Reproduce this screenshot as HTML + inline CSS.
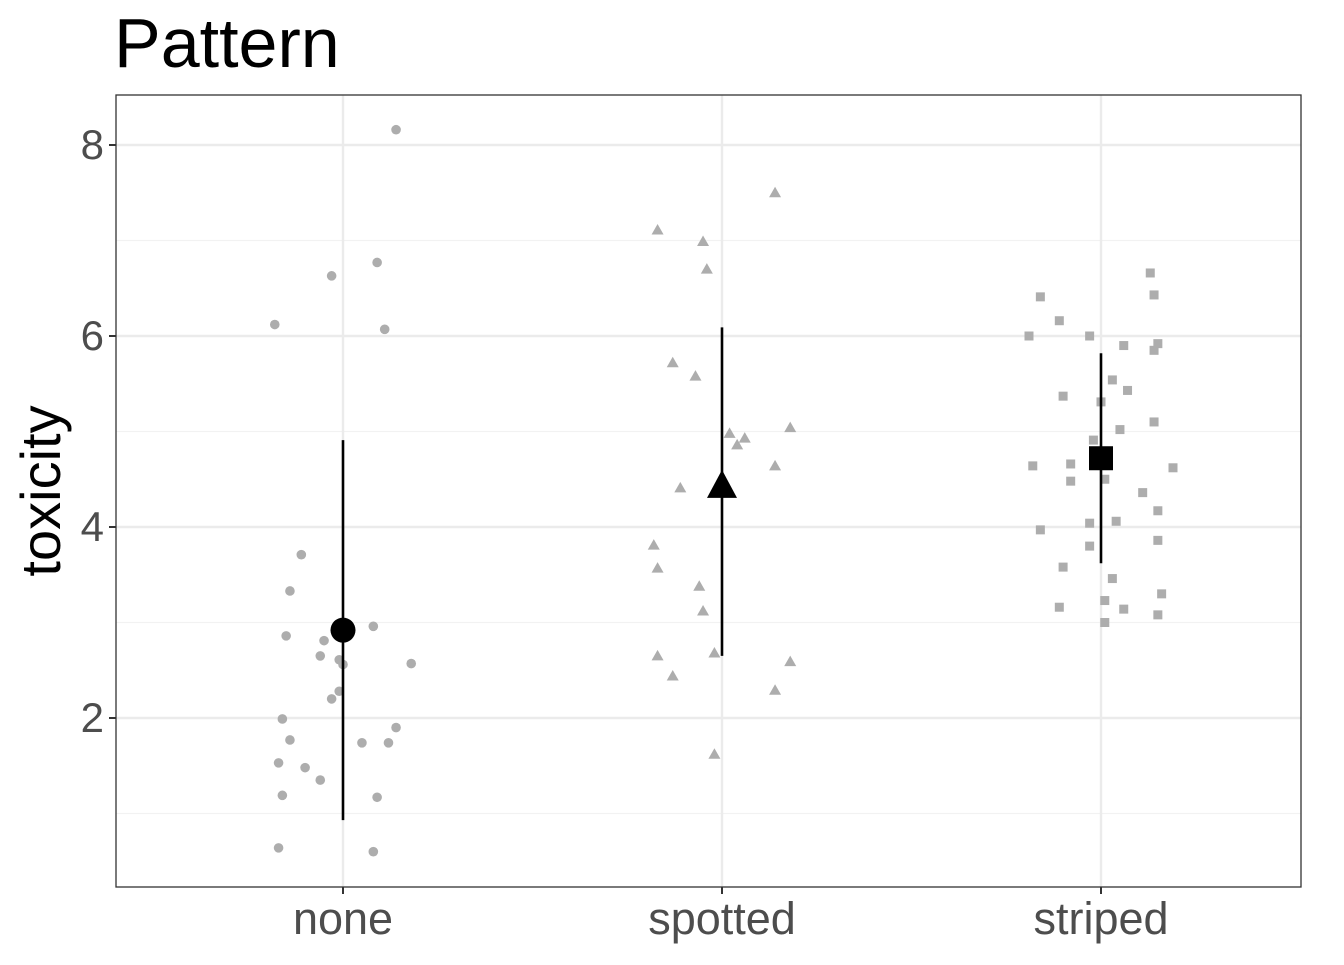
<!DOCTYPE html>
<html><head><meta charset="utf-8"><style>
body{margin:0;background:#fff}
svg text{font-family:"Liberation Sans",Arial,sans-serif}
</style></head><body>
<svg id="chart" width="1344" height="960"></svg>
<script>
const categories=["none","spotted","striped"];
const yTicks=[2,4,6,8];
const yMinor=[1,3,5,7];
const noneVals=[8.16,6.63,6.77,6.12,6.07,3.71,3.33,2.86,2.81,2.65,2.61,2.56,2.96,2.57,2.28,2.20,1.99,1.90,1.77,1.74,1.74,1.53,1.48,1.35,1.19,1.17,0.64,0.60];
const noneJit=[0.14,-0.03,0.09,-0.18,0.11,-0.11,-0.14,-0.15,-0.05,-0.06,-0.01,0,0.08,0.18,-0.01,-0.03,-0.16,0.14,-0.14,0.05,0.12,-0.17,-0.10,-0.06,-0.16,0.09,-0.17,0.08];
const spottedVals=[7.50,7.11,6.99,6.70,5.72,5.58,4.98,4.93,5.04,4.86,4.64,4.41,3.81,3.57,3.38,3.12,2.68,2.65,2.59,2.44,2.29,1.62];
const spottedJit=[0.14,-0.17,-0.05,-0.04,-0.13,-0.07,0.02,0.06,0.18,0.04,0.14,-0.11,-0.18,-0.17,-0.06,-0.05,-0.02,-0.17,0.18,-0.13,0.14,-0.02];
const stripedVals=[6.66,6.41,6.43,6.16,6.00,6.00,5.90,5.92,5.85,5.54,5.43,5.37,5.31,5.02,5.10,4.91,4.64,4.66,4.62,4.48,4.50,4.36,4.17,4.04,4.06,3.97,3.86,3.80,3.58,3.46,3.30,3.16,3.23,3.14,3.08,3.00];
const stripedJit=[0.13,-0.16,0.14,-0.11,-0.19,-0.03,0.06,0.15,0.14,0.03,0.07,-0.10,0,0.05,0.14,-0.02,-0.18,-0.08,0.19,-0.08,0.01,0.11,0.15,-0.03,0.04,-0.16,0.15,-0.03,-0.10,0.03,0.16,-0.11,0.01,0.06,0.15,0.01];
const means=[2.92,4.42,4.72];
const lows=[0.93,2.65,3.62];
const highs=[4.91,6.09,5.82];

const NS="http://www.w3.org/2000/svg";
const svg=document.getElementById("chart");
const L=116,R=1301,T=95,B=887;
const y=v=>718-(v-2)*95.5;
const x=(i,j)=>343+(i+(j||0))*379;
function el(t,a,name,p){const e=document.createElementNS(NS,t);for(const k in a)e.setAttribute(k,a[k]);


(p||svg).appendChild(e);return e;}
el("rect",{x:L,y:T,width:R-L,height:B-T,fill:"#fff"},"plot-background");
yMinor.forEach(v=>el("line",{x1:L,x2:R,y1:y(v),y2:y(v),stroke:"#f2f2f2","stroke-width":1.2},"minor-gridline"));
yTicks.forEach(v=>el("line",{x1:L,x2:R,y1:y(v),y2:y(v),stroke:"#ebebeb","stroke-width":2.4},"major-gridline"));
categories.forEach((c,i)=>el("line",{x1:x(i),x2:x(i),y1:T,y2:B,stroke:"#ebebeb","stroke-width":2.4},"x-gridline"));
const g="#adadad";
noneVals.forEach((v,k)=>el("circle",{cx:x(0,noneJit[k]),cy:y(v),r:4.8,fill:g},"point-none"));
spottedVals.forEach((v,k)=>{const cx=x(1,spottedJit[k]),cy=y(v);
el("polygon",{points:`${cx},${cy-6} ${cx-6},${cy+4.5} ${cx+6},${cy+4.5}`,fill:g},"point-spotted");});
stripedVals.forEach((v,k)=>{const cx=x(2,stripedJit[k]),cy=y(v);
el("rect",{x:cx-4.5,y:cy-4.5,width:9,height:9,fill:g},"point-striped");});
means.forEach((m,i)=>{
el("line",{x1:x(i),x2:x(i),y1:y(lows[i]),y2:y(highs[i]),stroke:"#000","stroke-width":2.6},"error-bar-"+categories[i]);
const cx=x(i),cy=y(m);
if(i==0)el("circle",{cx,cy,r:12.5,fill:"#000"},"mean-none");
else if(i==1)el("polygon",{points:`${cx},${cy-17} ${cx-15},${cy+11} ${cx+15},${cy+11}`,fill:"#000"},"mean-spotted");
else el("rect",{x:cx-12,y:cy-12,width:24,height:24,fill:"#000"},"mean-striped");
});
el("rect",{x:L,y:T,width:R-L,height:B-T,fill:"none",stroke:"#333","stroke-width":1.3},"panel-border");
yTicks.forEach(v=>{el("line",{x1:L-7,x2:L,y1:y(v),y2:y(v),stroke:"#333","stroke-width":2},"y-tick");
const t=el("text",{x:L-12,y:y(v)+14,"text-anchor":"end","font-size":42,fill:"#4d4d4d"},"y-tick-label");t.textContent=v;});
categories.forEach((c,i)=>{el("line",{x1:x(i),x2:x(i),y1:B,y2:B+7,stroke:"#333","stroke-width":2},"x-tick");
const t=el("text",{x:x(i),y:934,"text-anchor":"middle","font-size":45,fill:"#4d4d4d"},"x-tick-label");t.textContent=c;});
const yt=el("text",{x:0,y:0,transform:"translate(60,491) rotate(-90)","text-anchor":"middle","font-size":56,fill:"#000"},"y-axis-title");yt.textContent="toxicity";
const tt=el("text",{x:114,y:67,"font-size":70,fill:"#000"},"chart-title");tt.textContent="Pattern";
</script>
</body></html>
